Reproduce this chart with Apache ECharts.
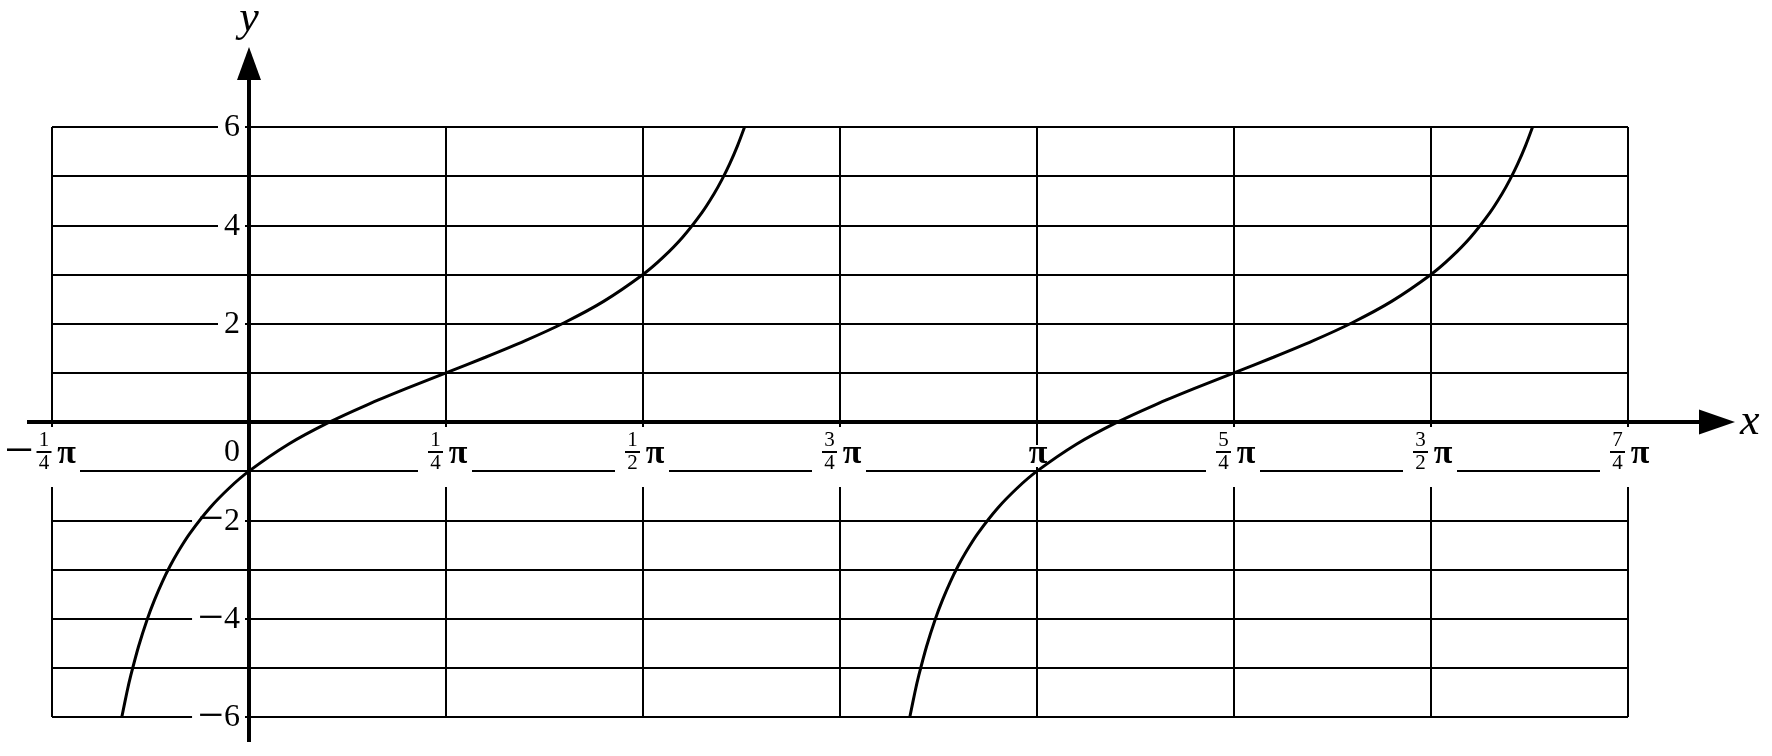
<!DOCTYPE html>
<html><head><meta charset="utf-8">
<script src="https://cdn.jsdelivr.net/npm/echarts@6/dist/echarts.min.js"></script>
<style>html,body{margin:0;padding:0;background:#fff}#c{width:1772px;height:756px}</style>
</head><body><div id="c"></div>
<script>
// ---- data (x in units of π) ----
const branch1X = [-0.1614, -0.155, -0.15, -0.14, -0.1289, -0.12, -0.11, -0.1, -0.09, -0.075, -0.05, -0.025, 0, 0.05, 0.1, 0.15, 0.2, 0.25, 0.3, 0.35, 0.4, 0.45, 0.5, 0.525, 0.55, 0.575, 0.59, 0.6, 0.61, 0.62, 0.6289];
const branch1Y = [-6, -5.501, -5.155, -4.555, -4.0, -3.622, -3.25, -2.925, -2.638, -2.264, -1.753, -1.342, -1, -0.453, -0.019, 0.35, 0.683, 1, 1.317, 1.65, 2.019, 2.453, 3, 3.342, 3.753, 4.264, 4.638, 4.925, 5.25, 5.622, 6];
const branch2X = [0.8386, 0.845, 0.85, 0.86, 0.8711, 0.88, 0.89, 0.9, 0.91, 0.925, 0.95, 0.975, 1, 1.05, 1.1, 1.15, 1.2, 1.25, 1.3, 1.35, 1.4, 1.45, 1.5, 1.525, 1.55, 1.575, 1.59, 1.6, 1.61, 1.62, 1.6289];
const branch2Y = [-6, -5.501, -5.155, -4.555, -4.0, -3.622, -3.25, -2.925, -2.638, -2.264, -1.753, -1.342, -1, -0.453, -0.019, 0.35, 0.683, 1, 1.317, 1.65, 2.019, 2.453, 3, 3.342, 3.753, 4.264, 4.638, 4.925, 5.25, 5.622, 6];

const xTickValues = [-0.25, 0.25, 0.5, 0.75, 1, 1.25, 1.5, 1.75];
const xTickSign   = ['−', '', '', '', '', '', '', ''];
const xTickNum    = ['1', '1', '1', '3', '', '5', '3', '7'];
const xTickDen    = ['4', '4', '2', '4', '', '4', '2', '4'];
const xTickUnit   = 'π';
const yTickValues = [-6, -4, -2, 0, 2, 4, 6];
const yTickSign   = ['−', '−', '−', '', '', '', ''];
const yTickDigits = ['6', '4', '2', '0', '2', '4', '6'];

const xMin = -0.25, xMax = 1.75, xStep = 0.25;
const yMin = -6, yMax = 6, yStep = 1;

const SERIF = '"Liberation Serif", "Times New Roman", serif';
const FRAC_FONT = '21px ' + SERIF;
const PI_FONT = 'bold 34px ' + SERIF;
const SIGN_FONT = '52px ' + SERIF;
const YLAB_FONT = '32px ' + SERIF;

function txt(s, x, y, font, align, extra) {
  const st = { text: s, x: x, y: y, font: font, fill: '#000', align: align || 'center', verticalAlign: 'middle', legacy: false };
  if (extra) for (const k in extra) st[k] = extra[k];
  return { type: 'text', style: st };
}

function renderXTickLabel(params, api) {
  const i = params.dataIndex;
  const p = api.coord([api.value(0), 0]);
  const T = p[0], A = p[1];
  const num = xTickNum[i], den = xTickDen[i], sign = xTickSign[i];
  const children = [];
  if (!num) {
    children.push({ type: 'rect', shape: { x: T - 12, y: A + 23, width: 24, height: 22 }, style: { fill: '#fff' } });
    children.push(txt(xTickUnit, T + 1, A + 32, PI_FONT));
  } else {
    const s = sign ? 2.5 : 0;
    const left = sign ? T - 46 : T - 28;
    const right = sign ? T + 28 : T + 26;
    children.push({ type: 'rect', shape: { x: left, y: A + 5, width: right - left, height: 60 }, style: { fill: '#fff' } });
    if (sign) children.push(txt(sign, T - 33, A + 31, SIGN_FONT));
    const fc = T - 10.5 + s;
    children.push(txt(num, fc, A + 18, FRAC_FONT));
    children.push({ type: 'rect', shape: { x: fc - 7.5, y: A + 29, width: 15, height: 2 }, style: { fill: '#000' } });
    children.push(txt(den, fc, A + 41, FRAC_FONT));
    children.push(txt(xTickUnit, T + 12 + s, A + 32, PI_FONT));
  }
  return { type: 'group', children: children };
}

const Y_RICH = {
  m: { fontSize: 46, fontFamily: SERIF, lineHeight: 34, fill: '#000' },
  d: { fontSize: 32, fontFamily: SERIF, lineHeight: 34, fill: '#000' }
};

function renderYTickLabel(params, api) {
  const i = params.dataIndex;
  const p = api.coord([0, api.value(1)]);
  const O = p[0], Y = p[1];
  if (yTickValues[i] === 0) {
    return txt(yTickDigits[i], O - 9, Y + 31, YLAB_FONT, 'right');
  }
  const s = (yTickSign[i] ? '{m|' + yTickSign[i] + '}' : '') + '{d|' + yTickDigits[i] + '}';
  return txt(s, O - 4, Y + 1, YLAB_FONT, 'right', { rich: Y_RICH, backgroundColor: '#fff', padding: [0, 5, 0, 6] });
}

function renderAxes(params, api) {
  const o = api.coord([0, 0]);
  const lo = api.coord([xMin, yMin]);
  const hi = api.coord([xMax, yMax]);
  const O = o[0], A = o[1];
  return { type: 'group', children: [
    { type: 'rect', shape: { x: lo[0] - 25, y: A - 2, width: hi[0] + 72 - (lo[0] - 25), height: 4 }, style: { fill: '#000' } },
    { type: 'polygon', shape: { points: [[hi[0] + 71, A - 12.5], [hi[0] + 107, A], [hi[0] + 71, A + 12.5]] }, style: { fill: '#000' } },
    { type: 'rect', shape: { x: O - 2, y: hi[1] - 48, width: 4, height: lo[1] + 25 - (hi[1] - 48) }, style: { fill: '#000' } },
    { type: 'polygon', shape: { points: [[O - 12, hi[1] - 47], [O, hi[1] - 80], [O + 12, hi[1] - 47]] }, style: { fill: '#000' } }
  ] };
}

const chart = echarts.init(document.getElementById('c'), null, { renderer: 'canvas' });
chart.setOption({
  animation: false,
  backgroundColor: '#fff',
  textStyle: { fontFamily: SERIF },
  grid: { left: 52, right: 144, top: 127, bottom: 39, containLabel: false, outerBoundsMode: 'none' },
  xAxis: {
    type: 'value', min: xMin, max: xMax, interval: xStep,
    axisLine: { show: true, onZero: true, lineStyle: { color: '#000', opacity: 0 } },
    axisTick: { show: false }, axisLabel: { show: false },
    splitLine: { show: true, lineStyle: { color: '#000', width: 2 } },
    name: 'x', nameLocation: 'end', nameGap: 112,
    nameTextStyle: { fontFamily: SERIF, fontStyle: 'italic', fontSize: 44, color: '#000', padding: [0, 0, 10, 0] }
  },
  yAxis: {
    type: 'value', min: yMin, max: yMax, interval: yStep,
    axisLine: { show: true, onZero: true, lineStyle: { color: '#000', opacity: 0 } },
    axisTick: { show: false }, axisLabel: { show: false },
    splitLine: { show: true, lineStyle: { color: '#000', width: 2 } },
    name: 'y', nameLocation: 'end', nameGap: 86,
    nameTextStyle: { fontFamily: SERIF, fontStyle: 'italic', fontSize: 44, color: '#000' }
  },
  series: [
    { type: 'custom', name: 'xTicks', coordinateSystem: 'cartesian2d', renderItem: renderXTickLabel,
      data: xTickValues.map(function (v) { return [v, -1]; }), z: 2, silent: true, clip: false },
    { type: 'custom', name: 'yTicks', coordinateSystem: 'cartesian2d', renderItem: renderYTickLabel,
      data: yTickValues.map(function (v) { return [0, v]; }), z: 2, silent: true, clip: false },
    { type: 'line', name: 'branch1', data: branch1X.map(function (x, i) { return [x, branch1Y[i]]; }),
      smooth: 0.3, symbol: 'none', lineStyle: { color: '#000', width: 3 }, z: 3, silent: true },
    { type: 'line', name: 'branch2', data: branch2X.map(function (x, i) { return [x, branch2Y[i]]; }),
      smooth: 0.3, symbol: 'none', lineStyle: { color: '#000', width: 3 }, z: 3, silent: true },
    { type: 'custom', name: 'axes', coordinateSystem: 'cartesian2d', renderItem: renderAxes,
      data: [[0, 0]], z: 4, silent: true, clip: false }
  ]
});
</script></body></html>
